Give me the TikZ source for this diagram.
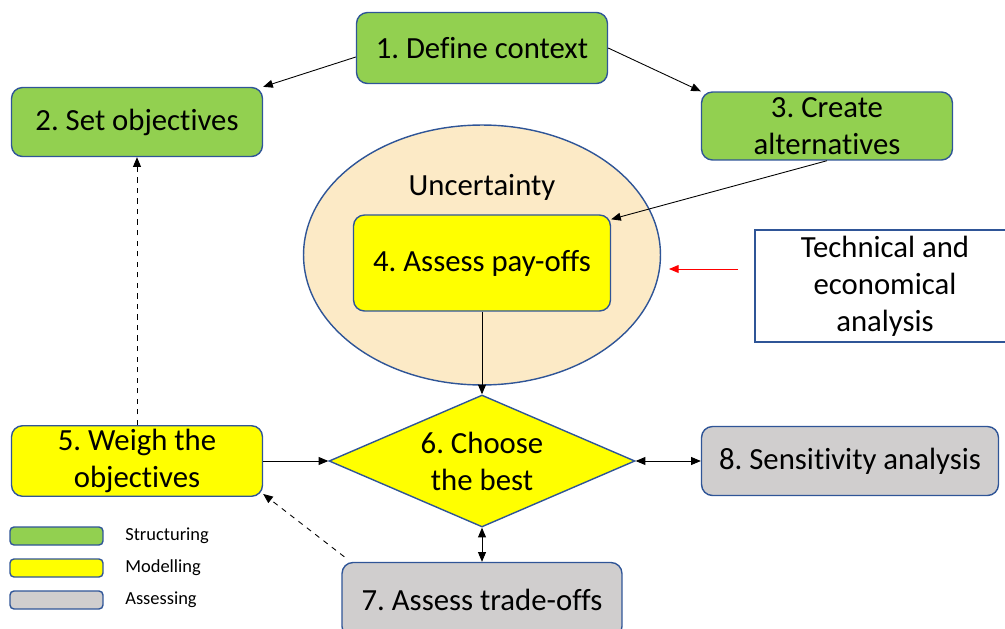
\documentclass[tikz,border=0pt]{standalone}
\usepackage{fontspec}
\setmainfont{Carlito}[Ligatures=NoCommon]
\usetikzlibrary{arrows.meta, positioning, shapes.geometric}

\definecolor{stepgreen}{RGB}{146,208,80}
\definecolor{stepyellow}{RGB}{255,255,0}
\definecolor{stepgrey}{RGB}{208,206,206}
\definecolor{stepborder}{RGB}{47,85,151}
\definecolor{uncfill}{RGB}{252,234,198}

\begin{document}
\frenchspacing
\begin{tikzpicture}[x=0.02cm, y=-0.02cm,
  box/.style={draw=stepborder, line width=0.8pt, rounded corners=0.22cm, align=center,
    font=\fontsize{17.5}{21}\selectfont, inner sep=2pt},
  greenbox/.style={box, fill=stepgreen},
  yellowbox/.style={box, fill=stepyellow},
  greybox/.style={box, fill=stepgrey},
  legbox/.style={draw=stepborder, line width=0.8pt, rounded corners=0.08cm, minimum width=1.86cm, minimum height=0.36cm, inner sep=0pt},
  legtext/.style={anchor=west, font=\fontsize{10.5}{12}\selectfont, inner sep=0pt},
  arr/.style={-{Triangle[length=5.5pt,width=4.5pt]}, line width=0.5pt},
  twoarr/.style={{Triangle[length=5.5pt,width=4.5pt]}-{Triangle[length=5.5pt,width=4.5pt]}, line width=0.5pt},
]
  \useasboundingbox (0,0) rectangle (1005,629);

  % Uncertainty around the pay-offs
  \node[ellipse, draw=stepborder, line width=0.8pt, fill=uncfill, minimum width=7.14cm, minimum height=5.2cm] (unc) at (482,255) {};
  \node[font=\fontsize{17.5}{21}\selectfont] (unclabel) at (482,187) {Uncertainty};

  % Steps
  \node[greenbox, minimum width=5.02cm, minimum height=1.42cm] (n1) at (482,48) {1. Define context};
  \node[greenbox, minimum width=5.02cm, minimum height=1.38cm] (n2) at (137,122) {2. Set objectives};
  \node[greenbox, minimum width=5.02cm, minimum height=1.36cm] (n3) at (827,126) {3. Create\\alternatives};
  \node[yellowbox, minimum width=5.14cm, minimum height=1.92cm] (n4) at (482,263) {4. Assess pay-offs};
  \node[yellowbox, minimum width=5.02cm, minimum height=1.38cm] (n5) at (137,461) {5. Weigh the\\objectives};
  \node[diamond, draw=stepborder, line width=0.8pt, fill=stepyellow, aspect=2.3, inner sep=0pt,
    minimum width=6.12cm, minimum height=2.64cm, align=center, font=\fontsize{17.5}{21}\selectfont] (n6) at (482,461) {6. Choose\\the best};
  \node[greybox, minimum width=5.6cm, minimum height=1.5cm] (n7) at (482,600) {7. Assess trade-offs};
  \node[greybox, minimum width=5.94cm, minimum height=1.38cm] (n8) at (850,461) {8. Sensitivity analysis};

  % Outside input
  \node[draw=stepborder, line width=0.8pt, fill=white, align=center, font=\fontsize{17.5}{21}\selectfont,
    minimum width=5.2cm, minimum height=2.24cm] (tech) at (885,286) {Technical and\\economical\\analysis};

  % Connectors
  \draw[arr] ([yshift=-0.18cm]n1.west) -- (n2.north east);
  \draw[arr] (n1.east) -- (n3.north west);
  \draw[arr] (n3.south) -- ([yshift=-0.1cm]n4.north east);
  \draw[arr] (n4.south) -- (n6.north);
  \draw[arr] (n5.east) -- (n6.west);
  \draw[twoarr] (n6.east) -- (n8.west);
  \draw[twoarr] (n6.south) -- (n7.north);
  \draw[arr, dashed] (n5.north) -- (n2.south);
  \draw[arr, dashed] ([xshift=0.06cm,yshift=0.1cm]n7.north west) -- ([yshift=0.06cm]n5.south east);
  \coordinate (redtail) at (738,269);
  \coordinate (redhead) at (669,269);
  \draw[arr, red] (redtail) -- (redhead);

  % Legend
  \node[legbox, fill=stepgreen] (lg1) at (56.5,536) {};
  \node[legbox, fill=stepyellow] (lg2) at (56.5,568) {};
  \node[legbox, fill=stepgrey] (lg3) at (56.5,600) {};
  \node[legtext] (lt1) at (125,536) {Structuring};
  \node[legtext] (lt2) at (125,568) {Modelling};
  \node[legtext] (lt3) at (125,600) {Assessing};
\end{tikzpicture}
\end{document}
